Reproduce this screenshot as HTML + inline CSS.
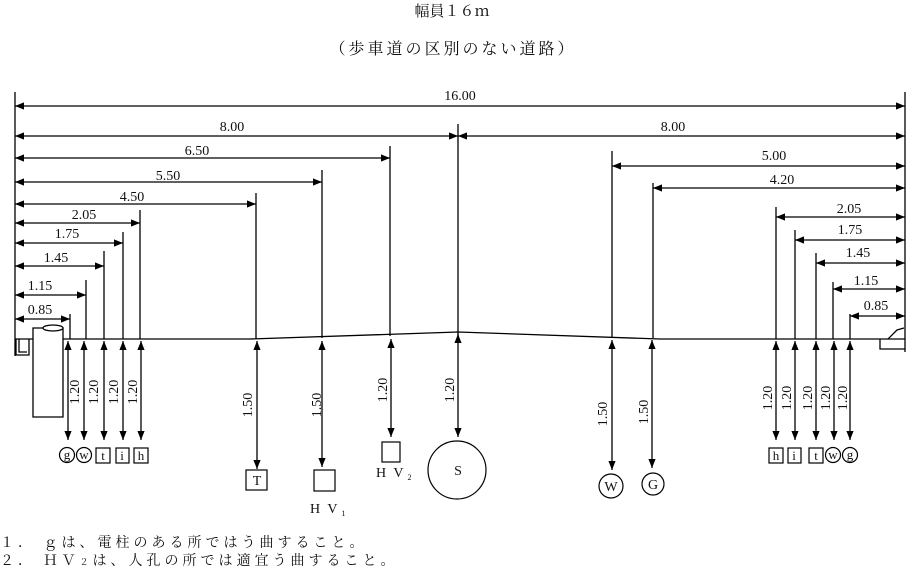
<!DOCTYPE html>
<html><head><meta charset="utf-8"><style>
html,body{margin:0;padding:0;background:#fff}
svg{display:block}
text{font-family:"Liberation Serif","Noto Serif CJK SC",serif;fill:#111}
.j{font-family:"Liberation Serif","Noto Serif CJK JP","Noto Sans CJK JP",serif}
</style></head><body>
<svg width="906" height="569" viewBox="0 0 906 569" xmlns="http://www.w3.org/2000/svg">
<defs>
<marker id="a" viewBox="0 0 10 10" refX="10" refY="5" markerWidth="9" markerHeight="9" orient="auto-start-reverse" markerUnits="userSpaceOnUse"><path d="M0,1 L10,5 L0,9z" fill="#000"/></marker>
</defs>
<text class="j" x="452" y="16" font-size="15" text-anchor="middle">幅員１６ｍ</text>
<text class="j" x="453" y="54" font-size="16" text-anchor="middle" letter-spacing="3">（歩車道の区別のない道路）</text>
<g stroke="#000" stroke-width="1.3" fill="none">
<line x1="15" y1="92" x2="15" y2="356"/>
<line x1="905" y1="92" x2="905" y2="352"/>
<polyline points="15,339 250,339 458,332 660,339 905,339"/>
<line x1="458" y1="124" x2="458" y2="340"/>
<line x1="390" y1="146" x2="390" y2="336"/>
<line x1="322" y1="170" x2="322" y2="338"/>
<line x1="256" y1="193" x2="256" y2="339"/>
<line x1="140" y1="210" x2="140" y2="339"/>
<line x1="123" y1="232" x2="123" y2="339"/>
<line x1="104" y1="251" x2="104" y2="339"/>
<line x1="86" y1="280" x2="86" y2="339"/>
<line x1="70" y1="314" x2="70" y2="339"/>
<line x1="612" y1="151" x2="612" y2="338"/>
<line x1="653" y1="183" x2="653" y2="338"/>
<line x1="776" y1="207" x2="776" y2="339"/>
<line x1="795" y1="230" x2="795" y2="339"/>
<line x1="816" y1="253" x2="816" y2="339"/>
<line x1="833" y1="282" x2="833" y2="339"/>
<line x1="850" y1="314" x2="850" y2="339"/>
</g>
<g stroke="#000" stroke-width="1.3" marker-start="url(#a)" marker-end="url(#a)">
<line x1="15" y1="106" x2="905" y2="106"/>
<line x1="15" y1="136" x2="458" y2="136"/>
<line x1="458" y1="136" x2="905" y2="136"/>
<line x1="15" y1="158" x2="390" y2="158"/>
<line x1="15" y1="182" x2="322" y2="182"/>
<line x1="15" y1="204" x2="256" y2="204"/>
<line x1="15" y1="223" x2="140" y2="223"/>
<line x1="15" y1="243" x2="123" y2="243"/>
<line x1="15" y1="266" x2="104" y2="266"/>
<line x1="15" y1="295" x2="86" y2="295"/>
<line x1="15" y1="319" x2="70" y2="319"/>
<line x1="612" y1="166" x2="905" y2="166"/>
<line x1="653" y1="188" x2="905" y2="188"/>
<line x1="776" y1="217" x2="905" y2="217"/>
<line x1="795" y1="240" x2="905" y2="240"/>
<line x1="816" y1="263" x2="905" y2="263"/>
<line x1="833" y1="289" x2="905" y2="289"/>
<line x1="850" y1="316" x2="905" y2="316"/>
<line x1="68" y1="341" x2="68" y2="440"/>
<line x1="84" y1="341" x2="84" y2="440"/>
<line x1="104" y1="341" x2="104" y2="440"/>
<line x1="123" y1="341" x2="123" y2="440"/>
<line x1="141" y1="341" x2="141" y2="440"/>
<line x1="257" y1="341" x2="257" y2="469"/>
<line x1="322" y1="341" x2="322" y2="467"/>
<line x1="391" y1="339" x2="391" y2="437"/>
<line x1="458" y1="334" x2="458" y2="437"/>
<line x1="612" y1="340" x2="612" y2="470"/>
<line x1="652" y1="340" x2="652" y2="468"/>
<line x1="776" y1="341" x2="776" y2="440"/>
<line x1="795" y1="341" x2="795" y2="440"/>
<line x1="816" y1="341" x2="816" y2="440"/>
<line x1="834" y1="341" x2="834" y2="440"/>
<line x1="850" y1="341" x2="850" y2="440"/>
</g>
<g font-size="14" text-anchor="middle">
<text x="460" y="100">16.00</text>
<text x="232" y="131">8.00</text>
<text x="673" y="131">8.00</text>
<text x="197" y="155">6.50</text>
<text x="168" y="180">5.50</text>
<text x="132" y="201">4.50</text>
<text x="84" y="219">2.05</text>
<text x="67" y="238">1.75</text>
<text x="56" y="262">1.45</text>
<text x="40" y="290">1.15</text>
<text x="40" y="314">0.85</text>
<text x="774" y="160">5.00</text>
<text x="782" y="184">4.20</text>
<text x="849" y="213">2.05</text>
<text x="850" y="234">1.75</text>
<text x="858" y="257">1.45</text>
<text x="866" y="285">1.15</text>
<text x="876" y="310">0.85</text>
</g>
<g font-size="14" text-anchor="middle">
<text transform="translate(58,392) rotate(-90)">1.20</text>
<text transform="translate(79,392) rotate(-90)">1.20</text>
<text transform="translate(98,392) rotate(-90)">1.20</text>
<text transform="translate(118,392) rotate(-90)">1.20</text>
<text transform="translate(137,392) rotate(-90)">1.20</text>
<text transform="translate(252,405) rotate(-90)">1.50</text>
<text transform="translate(321,405) rotate(-90)">1.50</text>
<text transform="translate(387,390) rotate(-90)">1.20</text>
<text transform="translate(454,390) rotate(-90)">1.20</text>
<text transform="translate(607,414) rotate(-90)">1.50</text>
<text transform="translate(648,412) rotate(-90)">1.50</text>
<text transform="translate(772,398) rotate(-90)">1.20</text>
<text transform="translate(791,398) rotate(-90)">1.20</text>
<text transform="translate(812,398) rotate(-90)">1.20</text>
<text transform="translate(830,398) rotate(-90)">1.20</text>
<text transform="translate(847,398) rotate(-90)">1.20</text>
</g>
<g stroke="#000" stroke-width="1.3" fill="#fff">
<path d="M33,328 L33,417 L63,417 L63,328 Z"/>
<ellipse cx="53" cy="328" rx="10" ry="3"/>
<path d="M16,339 L16,355 L29,355 L29,339" fill="none"/>
<path d="M19,339 L19,352 L27,352" fill="none"/>
<path d="M880,339 L880,349 L905,349" fill="none"/>
<path d="M888,339 L897,330 L904,328" fill="none"/>
</g>
<g stroke="#000" stroke-width="1.2" fill="#fff">
<circle cx="67" cy="455" r="7.5"/><circle cx="84" cy="455" r="7.5"/>
<rect x="96" y="448" width="14" height="15"/><rect x="116" y="448" width="13" height="15"/><rect x="134" y="448" width="14" height="15"/>
<rect x="246" y="470" width="21" height="20"/>
<rect x="314" y="470" width="21" height="21"/>
<rect x="382" y="442" width="18" height="20"/>
<circle cx="457" cy="470" r="29"/>
<circle cx="611" cy="486" r="12"/>
<circle cx="653" cy="484" r="11"/>
<rect x="769" y="448" width="14" height="15"/><rect x="788" y="448" width="13" height="15"/><rect x="809" y="448" width="14" height="15"/>
<circle cx="833" cy="455" r="7.5"/><circle cx="850" cy="455" r="7.5"/>
</g>
<g font-size="13" text-anchor="middle">
<text x="67" y="459">g</text><text x="84" y="459">w</text><text x="103" y="460">t</text><text x="122" y="460">i</text><text x="141" y="460">h</text>
<text x="257" y="485" font-size="14">T</text>
<text x="458" y="475" font-size="14">S</text>
<text x="611" y="491" font-size="14">W</text>
<text x="653" y="489" font-size="14">G</text>
<text x="776" y="460">h</text><text x="794" y="460">i</text><text x="816" y="460">t</text><text x="833" y="459">w</text><text x="850" y="459">g</text>
</g>
<text x="310" y="513" font-size="14" letter-spacing="2">H V<tspan font-size="8" dx="2" dy="3">1</tspan></text>
<text x="376" y="477" font-size="14" letter-spacing="2">H V<tspan font-size="8" dx="2" dy="3">2</tspan></text>
<text class="j" x="0" y="547" font-size="14" letter-spacing="4">１． ｇは、電柱のある所ではう曲すること。</text>
<text class="j" x="0" y="565" font-size="14" letter-spacing="4">２． ＨＶ<tspan font-size="9">２</tspan>は、人孔の所では適宜う曲すること。</text>
</svg>
</body></html>
